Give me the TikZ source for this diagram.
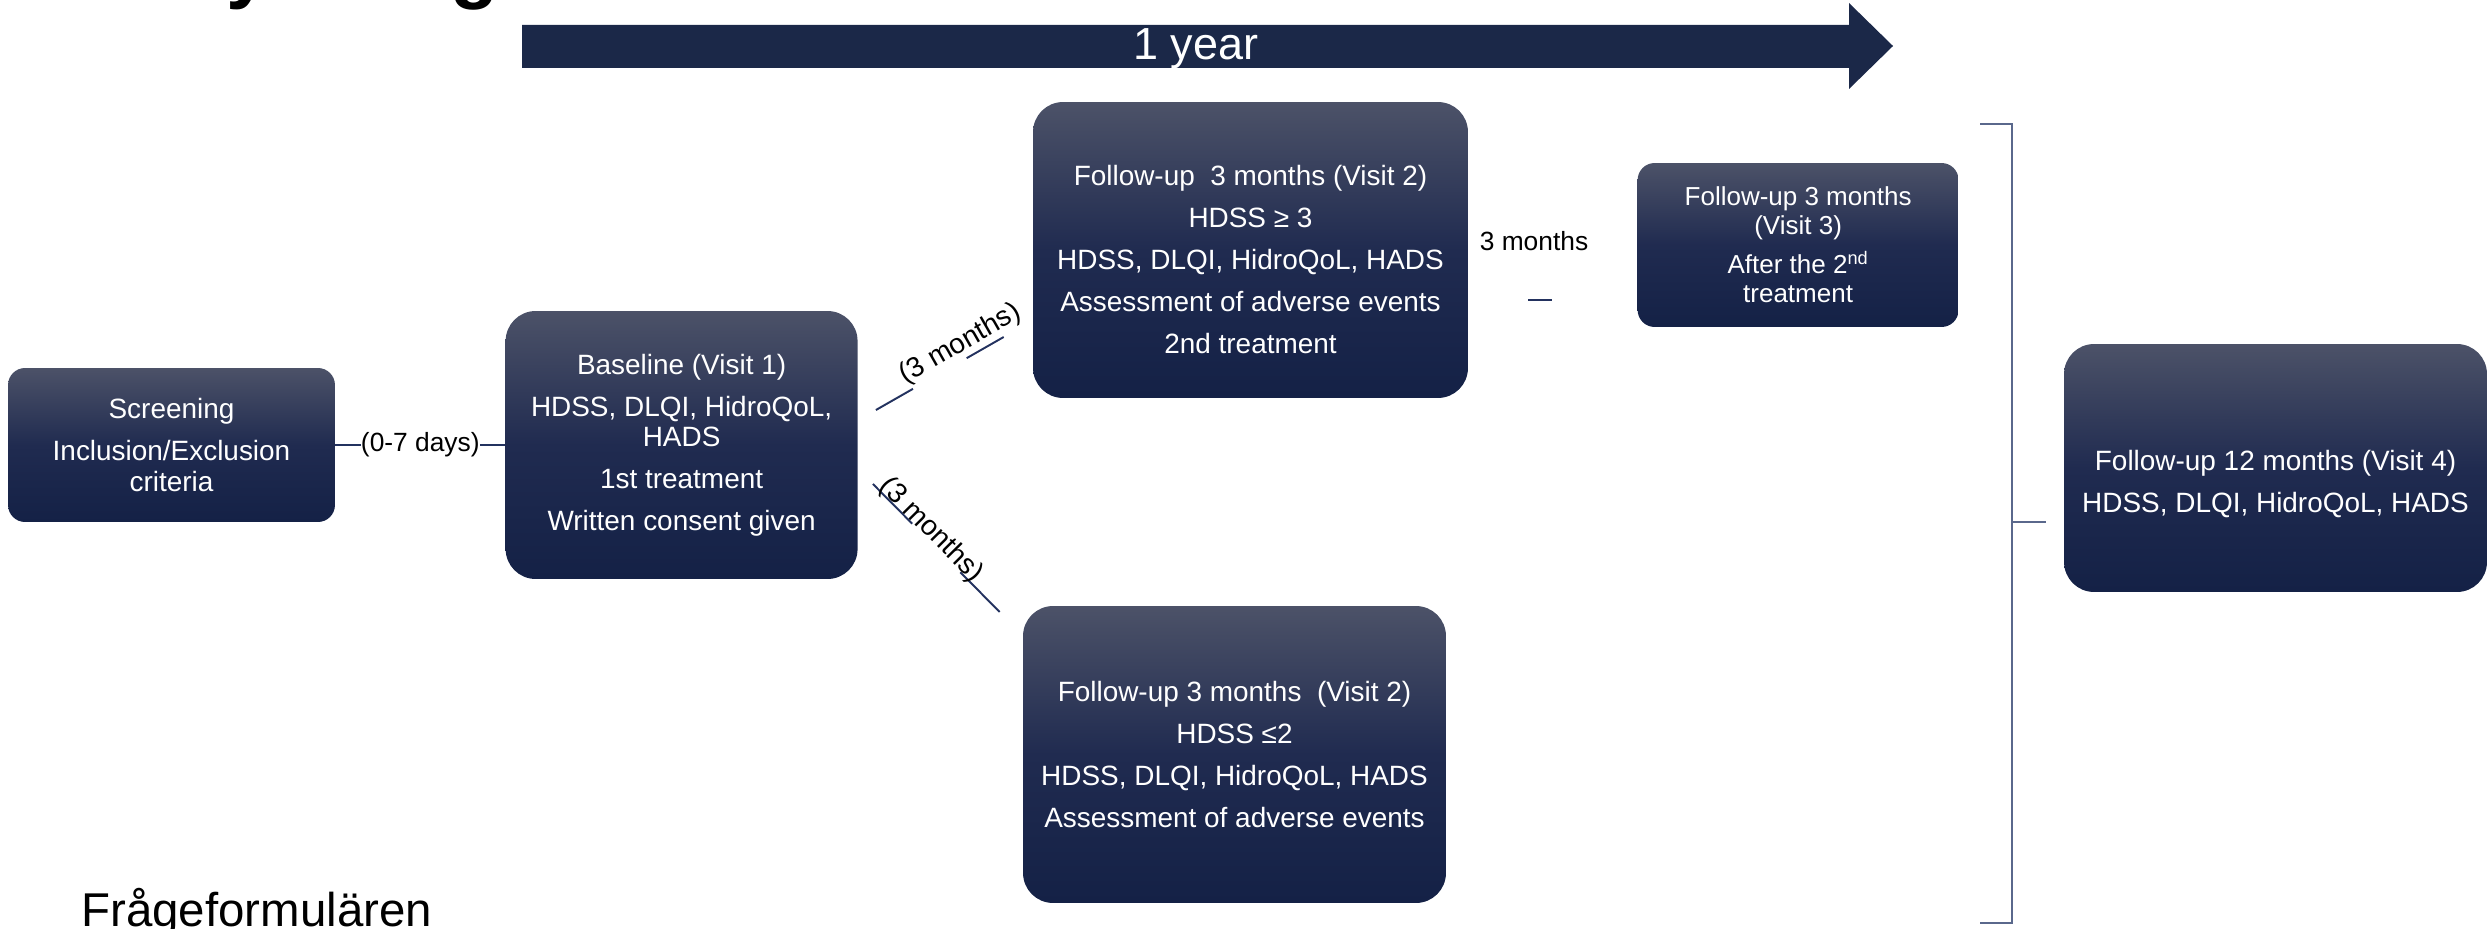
\documentclass[tikz,border=0pt]{standalone}
\usepackage{fontspec}
\setmainfont{Liberation Sans}
\usetikzlibrary{positioning,calc}

\definecolor{navy}{RGB}{27,40,72}
\definecolor{boxtop}{RGB}{76,82,104}
\definecolor{boxmid}{RGB}{32,43,80}
\definecolor{boxbot}{RGB}{20,33,70}
\definecolor{linkblue}{RGB}{35,50,95}
\definecolor{brackblue}{RGB}{90,104,140}

\begin{document}
\begin{tikzpicture}[
  x=0.02cm, y=-0.02cm,
  box/.style={rounded corners=0.6cm, align=center, text=white, inner sep=0pt,
    top color=boxtop, bottom color=boxbot, middle color=boxmid,
    font=\fontsize{15.9}{17.1}\selectfont},
  smallbox/.style={box, rounded corners=0.34cm},
  link/.style={draw=linkblue, line width=1.1pt},
  brack/.style={draw=brackblue, line width=1.2pt},
  note/.style={inner sep=0pt, font=\fontsize{15}{17}\selectfont},
  slopelabel/.style={note, sloped, font=\fontsize{16}{18}\selectfont}
]
\useasboundingbox (0,0) rectangle (2488,929);

% title, cut off at the top
\node[inner sep=0pt, anchor=base west, font=\bfseries\fontsize{45}{50}\selectfont] (title) at (50,-6) {Study design};

% time arrow
\fill[navy] (522,25) -- (1849,25) -- (1849,3) -- (1893,46) -- (1849,89) -- (1849,68) -- (522,68) -- cycle;
\node[anchor=base, text=white, inner sep=0pt, font=\fontsize{25.6}{28}\selectfont] (year) at (1196,60) {1 year};

% visits
\node[smallbox, minimum width=6.54cm, minimum height=3.08cm] (screen) at (171.5,445) {Screening\\[6.8pt]Inclusion/Exclusion\\criteria};
\node[box, right=3.4cm of screen, minimum width=7.04cm, minimum height=5.36cm] (base) {Baseline (Visit 1)\\[6.8pt]HDSS, DLQI, HidroQoL,\\HADS\\[6.8pt]1st treatment\\[6.8pt]Written consent given};
\node[box, minimum width=8.7cm, minimum height=5.92cm] (v2a) at (1250.5,250) {\rule{0pt}{22.4pt}Follow-up~ 3 months (Visit 2)\\[6.8pt]HDSS ≥ 3\\[6.8pt]HDSS, DLQI, HidroQoL, HADS\\[6.8pt]Assessment of adverse events\\[6.8pt]2nd treatment};
\node[box, minimum width=8.46cm, minimum height=5.94cm] (v2b) at (1234.5,754.5) {Follow-up 3 months~ (Visit 2)\\[6.8pt]HDSS ≤2\\[6.8pt]HDSS, DLQI, HidroQoL, HADS\\[6.8pt]Assessment of adverse events};
\node[smallbox, right=3.38cm of v2a, yshift=0.1cm, minimum width=6.42cm, minimum height=3.28cm, font=\fontsize{14.8}{16.5}\selectfont] (v3) {Follow-up 3 months\\(Visit 3)\\[5.7pt]After the 2\textsuperscript{nd}\\treatment};
\node[box, minimum width=8.46cm, minimum height=4.96cm] (v4) at (2275.5,468) {\rule{0pt}{30pt}Follow-up 12 months (Visit 4)\\[7pt]HDSS, DLQI, HidroQoL, HADS};

% connectors
\draw[link] (screen) -- node[note, fill=white] (days) {(0-7 days)} (base);

\coordinate (u0) at ($(base.east)+(18,-35)$);
\coordinate (u1) at ($(v2a.west)+(-29,87)$);
\draw[link] (u0) -- ($(u0)!0.29!(u1)$) ($(u0)!0.71!(u1)$) -- (u1);
\path (u0) -- node[slopelabel, pos=0.72, above=1pt] {(3 months)} (u1);

\coordinate (l0) at ($(base.east)+(15,39)$);
\coordinate (l1) at ($(v2b.west)+(-23,-142.5)$);
\draw[link] (l0) -- ($(l0)!0.31!(l1)$) ($(l0)!0.69!(l1)$) -- (l1);
\path (l0) -- node[slopelabel, pos=0.41, above=-2.7pt] {(3 months)} (l1);

\node[note] (gap3) at (1534,241) {3 months};
\draw[link] ($(gap3)+(-6,59)$) -- ($(gap3)+(18,59)$);

% bracket to visit 4
\draw[brack] (1980,124) -- (2012,124) -- (2012,923) -- (1980,923);
\coordinate (brk) at (2012,522);
\draw[brack] (brk) -- ($(v4.west |- brk)+(-18,0)$);

\node[inner sep=0pt, anchor=base west, font=\fontsize{27}{30}\selectfont] (forms) at (81,926) {Frågeformulären};

\end{tikzpicture}
\end{document}
